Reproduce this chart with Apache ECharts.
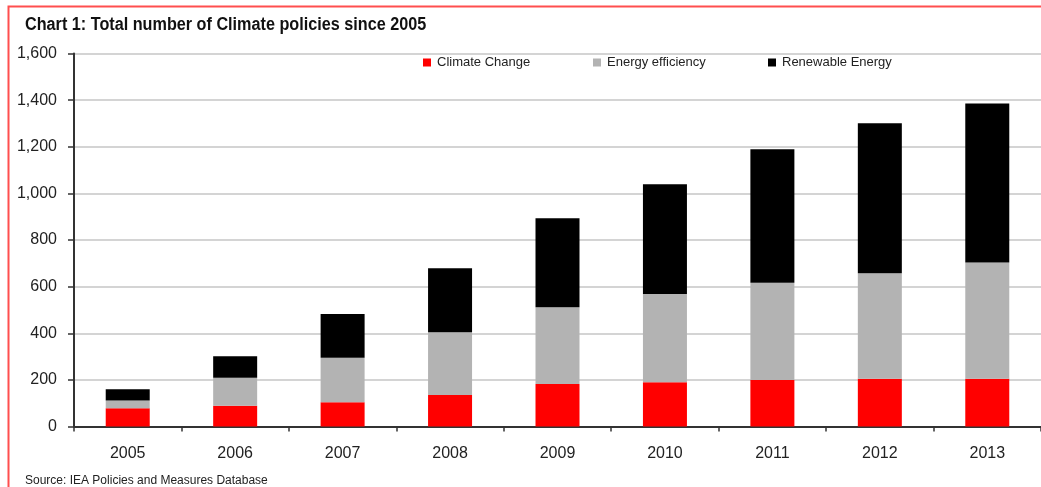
<!DOCTYPE html>
<html>
<head>
<meta charset="utf-8">
<script src="https://cdn.jsdelivr.net/npm/echarts@6/dist/echarts.min.js"></script>
<style>
html,body{margin:0;padding:0;background:#fff;}
#chart{width:1041px;height:487px;}
</style>
</head>
<body>
<div id="chart"></div>
<script>
const years = ['2005','2006','2007','2008','2009','2010','2011','2012','2013'];
const climateChange = [78, 89, 104, 135, 182, 190, 199, 205, 205];
const energyEfficiency = [33, 120, 191, 269, 329, 378, 418, 452, 498];
const renewableEnergy = [49, 92, 188, 275, 382, 471, 572, 644, 682];
const seriesNames = ['Climate Change', 'Energy efficiency', 'Renewable Energy'];
const titleText = 'Chart 1: Total number of Climate policies since 2005';
const sourceText = 'Source: IEA Policies and Measures Database';

const chart = echarts.init(document.getElementById('chart'), null, {renderer: 'canvas'});
const baseFont = "'Liberation Sans', Arial, sans-serif";
const colors = ['#ff0000', '#b3b3b3', '#000000'];
const legendLefts = [423, 593, 768];

function legendFor(i) {
  return {
    data: [seriesNames[i]],
    left: legendLefts[i],
    top: 56,
    itemWidth: 8,
    itemHeight: 8,
    itemGap: 0,
    padding: 0,
    icon: 'rect',
    textStyle: {fontFamily: baseFont, fontSize: 13, color: '#222', padding: [0, 0, 0, 1]}
  };
}

chart.setOption({
  backgroundColor: '#ffffff',
  animation: false,
  title: [
    {text: sourceText, left: 25, top: 475, padding: 0,
     textStyle: {fontFamily: baseFont, fontWeight: 'normal', fontSize: 12, color: '#222'}}
  ],
  legend: [legendFor(0), legendFor(1), legendFor(2)],
  grid: {left: 74, top: 53.5, bottom: 60.5, right: -6, containLabel: false},
  xAxis: {
    type: 'category',
    data: years,
    axisLine: {lineStyle: {color: '#333', width: 2}},
    axisTick: {show: true, length: 5, lineStyle: {color: '#333', width: 1.5}, alignWithLabel: false},
    axisLabel: {fontFamily: baseFont, fontSize: 16, color: '#222', margin: 19},
    splitLine: {show: false}
  },
  yAxis: {
    type: 'value',
    min: 0, max: 1600, interval: 200,
    axisLine: {show: true, lineStyle: {color: '#333', width: 2}},
    axisTick: {show: true, length: 6, lineStyle: {color: '#333', width: 1.5}},
    axisLabel: {fontFamily: baseFont, fontSize: 16, color: '#222', margin: 17,
      formatter: v => v.toLocaleString('en-US')},
    splitLine: {show: true, lineStyle: {color: '#d4d4d4', width: 2}}
  },
  series: [
    {name: seriesNames[0], type: 'bar', stack: 'total', data: climateChange, barWidth: 44,
     itemStyle: {color: colors[0]}},
    {name: seriesNames[1], type: 'bar', stack: 'total', data: energyEfficiency, barWidth: 44,
     itemStyle: {color: colors[1]}},
    {name: seriesNames[2], type: 'bar', stack: 'total', data: renewableEnergy, barWidth: 44,
     itemStyle: {color: colors[2]}}
  ],
  graphic: [
    {type: 'text', x: 25, y: 16, scaleX: 0.9, silent: true, z: 100,
     style: {text: titleText, fontFamily: baseFont, fontWeight: 'bold', fontSize: 18, fill: '#111'}},
    {type: 'rect', shape: {x: 8.5, y: 6.5, width: 1100, height: 600},
     style: {fill: 'none', stroke: '#ff4f4f', lineWidth: 2}, silent: true, z: 100}
  ]
});
</script>
</body>
</html>
